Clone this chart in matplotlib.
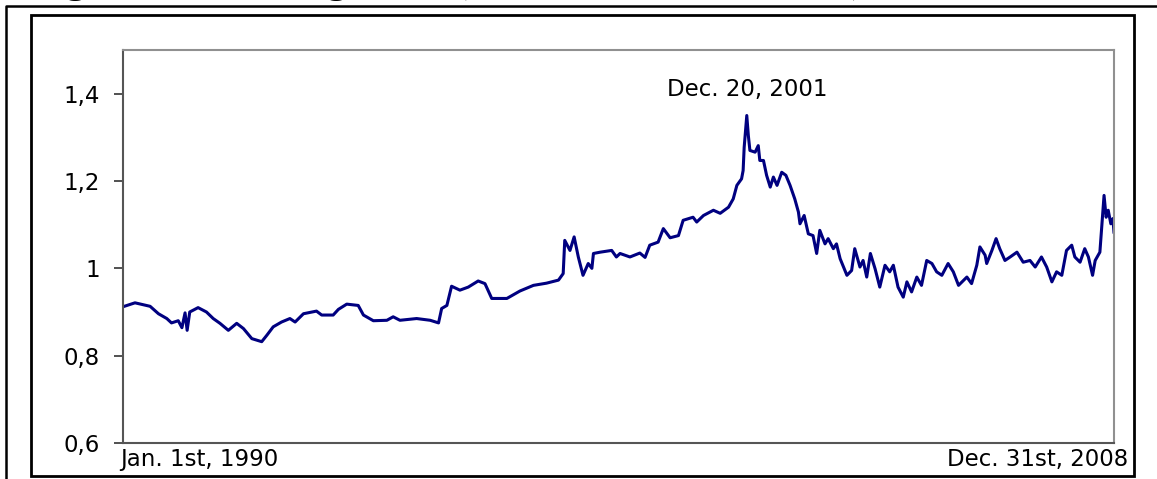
import matplotlib
matplotlib.use('Agg')
import matplotlib.pyplot as plt
from matplotlib.lines import Line2D
from matplotlib.patches import Rectangle

# Exchange rate (decimal year, rate)
years = [1990.00, 1990.23, 1990.52, 1990.68, 1990.84, 1990.93, 1991.06, 1991.13, 1991.19, 1991.23,
         1991.28, 1991.44, 1991.60, 1991.73, 1991.86, 1992.02, 1992.18, 1992.31, 1992.47, 1992.66,
         1992.76, 1992.88, 1993.04, 1993.20, 1993.30, 1993.46, 1993.71, 1993.81, 1994.03, 1994.13,
         1994.29, 1994.51, 1994.61, 1994.80, 1995.06, 1995.18, 1995.31, 1995.63, 1995.89, 1996.05,
         1996.11, 1996.21, 1996.30, 1996.46, 1996.62, 1996.81, 1996.94, 1997.07, 1997.36, 1997.61,
         1997.87, 1998.12, 1998.35, 1998.44, 1998.47, 1998.57, 1998.65, 1998.73, 1998.82, 1998.92,
         1998.99, 1999.02, 1999.15, 1999.37, 1999.46, 1999.53, 1999.72, 1999.91, 2000.01, 2000.10,
         2000.26, 2000.36, 2000.49, 2000.65, 2000.74, 2000.93, 2001.00, 2001.13, 2001.32, 2001.45,
         2001.61, 2001.70, 2001.77, 2001.86, 2001.89, 2001.91, 2001.96, 2001.99, 2002.02, 2002.12,
         2002.18, 2002.21, 2002.28, 2002.34, 2002.41, 2002.47, 2002.54, 2002.63, 2002.71, 2002.79,
         2002.88, 2002.95, 2002.98, 2003.06, 2003.14, 2003.23, 2003.30, 2003.36, 2003.46, 2003.52,
         2003.62, 2003.68, 2003.75, 2003.88, 2003.97, 2004.03, 2004.13, 2004.19, 2004.26, 2004.33,
         2004.42, 2004.51, 2004.61, 2004.70, 2004.77, 2004.86, 2004.96, 2005.03, 2005.12, 2005.22,
         2005.31, 2005.41, 2005.51, 2005.60, 2005.70, 2005.82, 2005.92, 2006.02, 2006.18, 2006.27,
         2006.37, 2006.43, 2006.53, 2006.56, 2006.66, 2006.74, 2006.81, 2006.91, 2007.01, 2007.14,
         2007.26, 2007.39, 2007.49, 2007.61, 2007.71, 2007.81, 2007.90, 2008.00, 2008.09, 2008.19,
         2008.25, 2008.35, 2008.44, 2008.51, 2008.59, 2008.64, 2008.73, 2008.76, 2008.81, 2008.85,
         2008.89, 2008.94, 2008.98, 2009.00]
rate = [0.912, 0.921, 0.913, 0.896, 0.885, 0.875, 0.880, 0.864, 0.898, 0.858,
        0.900, 0.910, 0.900, 0.885, 0.874, 0.858, 0.874, 0.862, 0.839, 0.832,
        0.847, 0.866, 0.877, 0.885, 0.877, 0.896, 0.902, 0.893, 0.893, 0.906,
        0.918, 0.915, 0.893, 0.880, 0.881, 0.889, 0.881, 0.885, 0.881, 0.875,
        0.908, 0.915, 0.959, 0.950, 0.957, 0.971, 0.965, 0.931, 0.931, 0.948,
        0.961, 0.966, 0.973, 0.988, 1.064, 1.041, 1.072, 1.026, 0.984, 1.011,
        1.000, 1.034, 1.037, 1.041, 1.026, 1.034, 1.026, 1.035, 1.025, 1.053,
        1.060, 1.091, 1.070, 1.075, 1.110, 1.117, 1.106, 1.121, 1.133, 1.126,
        1.140, 1.159, 1.190, 1.205, 1.224, 1.277, 1.350, 1.304, 1.270, 1.266,
        1.281, 1.247, 1.247, 1.213, 1.186, 1.209, 1.190, 1.220, 1.213, 1.190,
        1.159, 1.129, 1.102, 1.121, 1.079, 1.075, 1.034, 1.087, 1.056, 1.068,
        1.045, 1.056, 1.022, 0.984, 0.995, 1.045, 1.003, 1.018, 0.980, 1.034,
        0.999, 0.957, 1.007, 0.992, 1.007, 0.957, 0.934, 0.969, 0.946, 0.980,
        0.961, 1.018, 1.011, 0.992, 0.984, 1.011, 0.992, 0.961, 0.980, 0.965,
        1.007, 1.049, 1.030, 1.011, 1.041, 1.068, 1.045, 1.018, 1.026, 1.037,
        1.014, 1.018, 1.003, 1.026, 1.003, 0.969, 0.992, 0.984, 1.041, 1.053,
        1.026, 1.014, 1.045, 1.026, 0.984, 1.018, 1.037, 1.087, 1.167, 1.117,
        1.133, 1.102, 1.114, 1.083]

y_ticks = [0.6, 0.8, 1.0, 1.2, 1.4]
y_tick_labels = ['0,6', '0,8', '1', '1,2', '1,4']
start_label = 'Jan. 1st, 1990'
end_label = 'Dec. 31st, 2008'
peak_label = 'Dec. 20, 2001'
peak_date = 2001 + 353 / 365
peak_label_y = 1.41

fig = plt.figure(figsize=(11.57, 4.79), dpi=100)
ax = fig.add_axes([0.1063, 0.0752, 0.8565, 0.8204])

ax.plot(years, rate, color='#000080', lw=2.2)
ax.set_xlim(1990, 2009)
ax.set_ylim(0.6, 1.5)
ax.set_xticks([])
ax.set_yticks(y_ticks, y_tick_labels)
ax.tick_params(axis='y', length=6.5, width=1.2, pad=10, labelsize=16.5, color='#333333')
for side, spine in ax.spines.items():
    spine.set_color('#555555' if side in ('left', 'bottom') else '#909090')
    spine.set_linewidth(1.5)

ax.text(-0.003, -0.043, start_label, transform=ax.transAxes, ha='left', va='center', fontsize=16.5)
ax.text(1.0141, -0.043, end_label, transform=ax.transAxes, ha='right', va='center', fontsize=16.5)
ax.text(peak_date, peak_label_y, peak_label, ha='center', va='center', fontsize=16.5)

# document frame around the chart
fig.add_artist(Rectangle((0.0268, 0.0063), 0.9533, 0.9634, transform=fig.transFigure,
                         fill=False, lw=2, ec='black'))
fig.add_artist(Line2D([0.0052, 0.0052, 1.0], [0.0, 0.9885, 0.9885], transform=fig.transFigure,
                      color='black', lw=1.8))

# title of the document, cut off at the top edge (only descenders show)
fig.text(0.026, 1.016, 'Figure 1: Exchange rate (', ha='left', va='baseline',
         fontsize=29, fontweight='bold', family='Liberation Serif')
fig.text(0.736, 1.016, ')', ha='left', va='baseline',
         fontsize=29, fontweight='bold', family='Liberation Serif')

fig.savefig('out.png', dpi=100)
